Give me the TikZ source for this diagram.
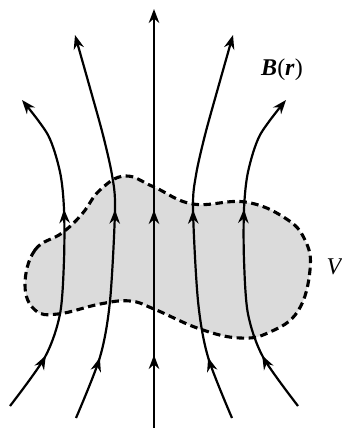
\documentclass[tikz,border=0pt]{standalone}
\usepackage{fontspec}
\setmainfont{Liberation Serif}
\usetikzlibrary{arrows.meta,decorations.markings}
\definecolor{regiongray}{gray}{0.86}

\begin{document}
\begin{tikzpicture}[x=1pt,y=1pt,>={Stealth[length=14pt,width=10.5pt]},
    fieldline/.style 2 args={line width=2.2pt,->,postaction={decorate},
      decoration={markings,mark=at position #1 with {\arrow{>}},
        mark=at position #2 with {\arrow{>}}}},
    region/.style={fill=regiongray,draw,line width=3.1pt,dash pattern=on 7.5pt off 4.5pt},
    label/.style={font=\fontsize{24}{28}\selectfont,inner sep=0pt}]
  \useasboundingbox (0,0) rectangle (341,-428);
  % the volume V
  \draw[region] plot[smooth cycle,tension=0.7] coordinates {(25,-285) (35,-250) (62,-233)
    (82,-214) (100,-190) (125,-176) (154,-187) (193,-204) (245,-202) (285,-218) (305,-240)
    (310,-270) (298,-311) (270,-332) (240,-338) (200,-329) (154,-309) (130,-301) (100,-304)
    (58,-314) (35,-310)};
  % field lines
  \draw[fieldline={62pt}{211pt}] plot[smooth] coordinates {(10,-406) (45,-357) (60,-314)
    (64,-260) (64,-209) (60,-172) (48,-135) (22,-100)};
  \draw[fieldline={65pt}{214pt}] plot[smooth] coordinates {(76,-418) (100,-357) (110,-301)
    (115,-209) (112,-175) (103,-135) (90,-88) (75,-35)};
  \draw[fieldline={73pt}{218pt}] (154,-428) -- (154,-9);
  \draw[fieldline={65pt}{214pt}] plot[smooth] coordinates {(232,-418) (208,-357) (198,-301)
    (193,-209) (196,-175) (205,-135) (218,-88) (233,-35)};
  \draw[fieldline={62pt}{211pt}] plot[smooth] coordinates {(298,-406) (263,-357) (248,-314)
    (244,-260) (244,-209) (248,-172) (260,-135) (286,-100)};
  % labels
  \node[label] (field) at (282,-70) {\textbf{\textit{B}}(\textbf{\textit{r}})};
  \node[label] (vol) at (335,-267) {\textit{V}};
\end{tikzpicture}
\end{document}
